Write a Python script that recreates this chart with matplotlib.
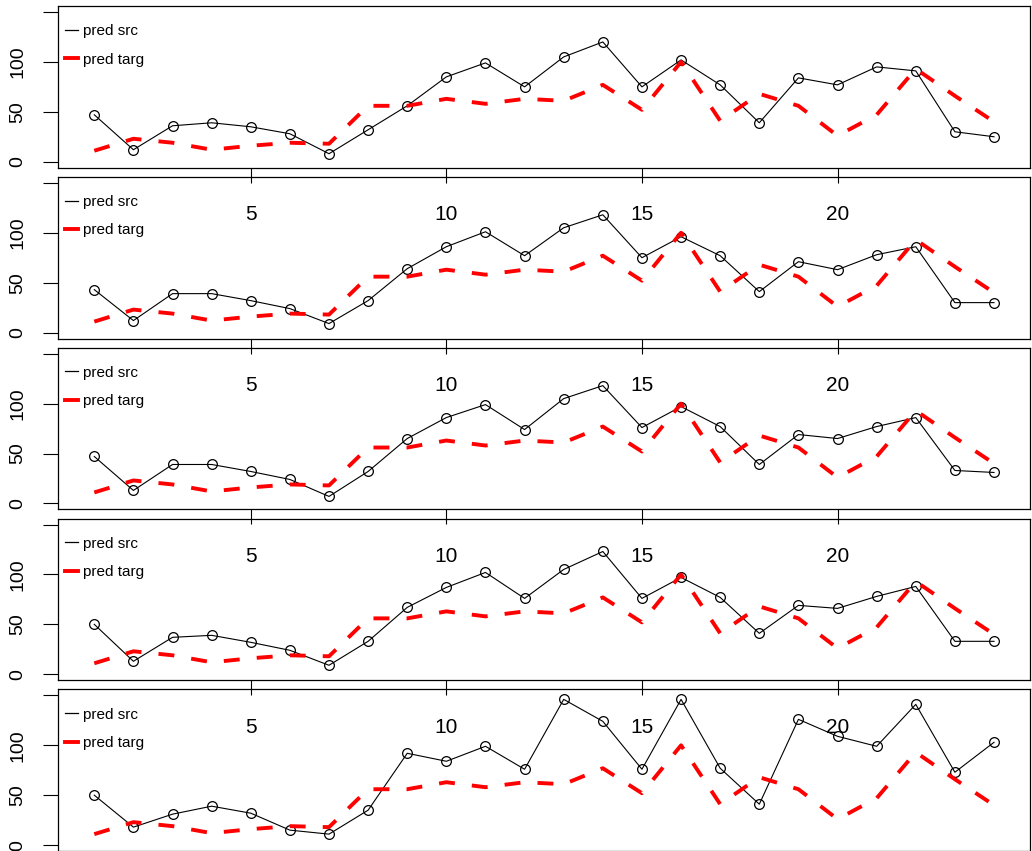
import matplotlib.pyplot as plt
from matplotlib.lines import Line2D

# --- Data ---
x_index = list(range(1, 25))

pred_targ = [11, 23, 19, 12, 16, 19, 18, 56, 56, 63, 58, 63,
             61, 77, 52, 100, 41, 68, 56, 26, 47, 93, 66, 40]

pred_src_1 = [47, 12, 36, 39, 35, 28, 8, 32, 56, 85, 99, 75,
              105, 120, 75, 102, 77, 39, 84, 77, 95, 91, 30, 25]
pred_src_2 = [43, 12, 39, 39, 32, 24, 9, 32, 64, 86, 101, 77,
              105, 118, 75, 96, 77, 41, 71, 63, 78, 86, 30, 30]
pred_src_3 = [47, 13, 39, 39, 32, 24, 7, 32, 65, 86, 99, 74,
              105, 118, 76, 97, 77, 39, 69, 65, 77, 86, 33, 31]
pred_src_4 = [50, 13, 37, 39, 32, 24, 9, 33, 67, 87, 102, 76,
              105, 123, 76, 97, 77, 41, 69, 66, 78, 88, 33, 33]
pred_src_5 = [50, 18, 31, 39, 32, 15, 11, 35, 92, 84, 99, 76,
              146, 124, 76, 146, 77, 41, 126, 109, 99, 141, 73, 103]

src_runs = [pred_src_1, pred_src_2, pred_src_3, pred_src_4, pred_src_5]

x_ticks = [5, 10, 15, 20]
y_ticks = [0, 50, 100, 150]
y_tick_labels = ["0", "50", "100", ""]

# --- Layout (pixels of a 1032x851 canvas) ---
W, H = 1032, 851
LEFT, RIGHT = 58.3, 1030.0
FIRST_TOP, PITCH, PANEL_H = 6.0, 170.85, 161.7

plt.rcParams["font.family"] = ["Liberation Sans", "DejaVu Sans"]

fig = plt.figure(figsize=(W / 100, H / 100), dpi=100)
fig.patch.set_facecolor("white")

# legend keys: plain short strokes, like R's legend(lty=...)
legend_handles = [
    Line2D([], [], color="black", linewidth=0.9),
    Line2D([], [], color="#ff0000", linewidth=2.8),
]

for i, src in enumerate(src_runs):
    top = FIRST_TOP + i * PITCH
    ax = fig.add_axes([LEFT / W, 1 - (top + PANEL_H) / H,
                       (RIGHT - LEFT) / W, PANEL_H / H])
    # transparent so the x labels of the panel above show through
    ax.set_facecolor("none")

    ax.plot(x_index, src, color="black", linewidth=0.8, marker="o",
            markersize=7, markerfacecolor="none", markeredgewidth=0.9,
            zorder=2)
    ax.plot(x_index, pred_targ, color="#ff0000", linewidth=2.8,
            dashes=[4.1, 4.4], zorder=3)

    ax.set_xlim(0.08, 24.92)
    ax.set_ylim(-6, 156)

    ax.set_xticks(x_ticks)
    ax.set_xticklabels([str(t) for t in x_ticks], fontsize=15)
    ax.set_yticks(y_ticks)
    ax.set_yticklabels(y_tick_labels, fontsize=14, rotation=90, va="center")
    ax.tick_params(axis="x", length=11, width=0.8, pad=16)
    ax.tick_params(axis="y", length=11, width=0.8, pad=12)
    if i == len(src_runs) - 1:
        # bottom panel's labels fall below the canvas in the reference
        ax.tick_params(axis="x", labelbottom=False)

    for sp in ax.spines.values():
        sp.set_linewidth(0.9)
        sp.set_color("black")

    ax.legend(legend_handles, ["pred src", "pred targ"],
              loc="upper left", bbox_to_anchor=(0.007, 0.888),
              frameon=False, fontsize=11, handlelength=0.85,
              handletextpad=0.35, labelspacing=0.95, borderpad=0,
              borderaxespad=0)

fig.savefig("out.png", dpi=100, facecolor="white")
plt.close(fig)
